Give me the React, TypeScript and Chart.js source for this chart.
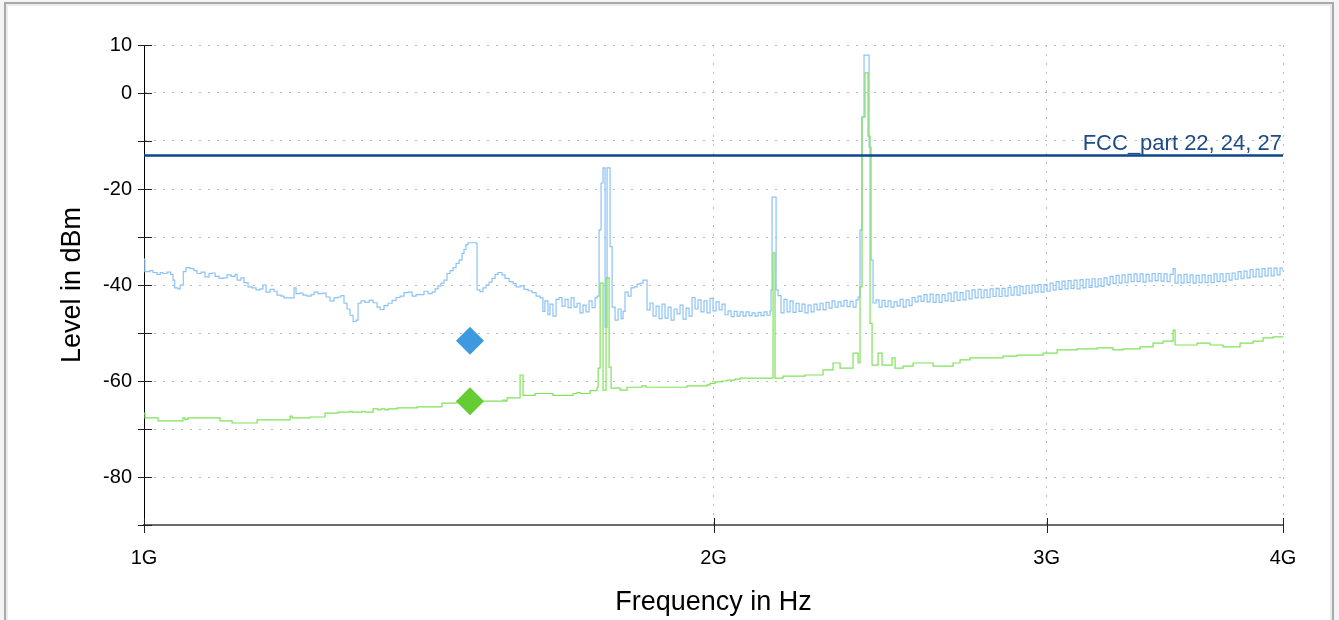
import React, { useEffect, useRef } from "react";
import { Chart, registerables } from "chart.js";

Chart.register(...registerables);

// ---- tick / label data ----
const xTickValues = [1000, 2000, 3000, 4000]; // MHz
const xTickLabels = ["1G", "2G", "3G", "4G"];
const yLabelValues = [10, 0, -20, -40, -60, -80];
const yMin = -90;
const yMax = 10;
const fccLimit = -13;
const fccLabel = "FCC_part 22, 24, 27";
const markerFreq = 1487;
const blueMarkerLevel = -51.6;
const greenMarkerLevel = -64.2;

// ---- peak trace (MHz, dBm) ----
const bluePeak: [number, number][] = [
  [1000, -34.6], [1001, -37.2], [1007, -37.0], [1011, -37.4], [1016, -37.8], [1020, -37.4],
  [1023, -37.6], [1028.4, -37.3], [1033, -37.8], [1036, -39.0], [1038, -40.6], [1042, -40.8],
  [1045, -40.0], [1049, -37.2], [1052.5, -36.4], [1057.7, -36.6], [1062.8, -37.0], [1066.7, -37.6],
  [1071.9, -37.3], [1077.1, -38.3], [1082.4, -37.6], [1086.4, -37.5], [1090.4, -38.2], [1095.7, -38.6],
  [1101, -38.5], [1106.4, -37.9], [1111.8, -38.2], [1117.2, -37.8], [1120, -39.0], [1125.3, -38.5],
  [1129.4, -39.5], [1135, -40.4], [1140.5, -40.6], [1146, -41.0], [1151.7, -40.8], [1155.9, -40.0],
  [1160.2, -41.5], [1165.9, -40.9], [1171.6, -41.3], [1175.8, -42.1], [1181.5, -42.3], [1185.8, -42.7],
  [1191.6, -42.7], [1197.5, -42.7], [1200.4, -40.6], [1203.3, -41.8], [1209.2, -41.7], [1213.6, -42.1],
  [1219.5, -42.3], [1225.5, -42.0], [1230, -41.5], [1236, -41.8], [1241.9, -41.7], [1248, -42.5],
  [1254, -43.3], [1260.2, -42.7], [1266.4, -42.5], [1271, -42.2], [1275.6, -43.8], [1280.3, -45.0],
  [1285, -46.3], [1289.8, -47.6], [1294.5, -47.3], [1297.6, -43.8], [1302.4, -43.3], [1308.7, -43.6],
  [1315.2, -43.2], [1321.6, -43.7], [1328, -44.6], [1332.9, -45.1], [1339.3, -44.3], [1345.9, -43.8],
  [1352.5, -43.2], [1359.1, -42.6], [1365.7, -42.3], [1372.3, -41.6], [1379.1, -41.5], [1385.8, -42.3],
  [1392.6, -42.0], [1399.3, -42.0], [1406.1, -41.3], [1413, -41.8], [1420, -41.5], [1425.2, -40.8],
  [1430.3, -40.2], [1435.5, -39.6], [1440.7, -39.0], [1446, -37.6], [1451.4, -37.0], [1456.7, -36.4],
  [1462, -35.5], [1467.3, -34.8], [1472.7, -33.4], [1476.2, -32.6], [1479.8, -31.6], [1483.5, -31.2],
  [1490.8, -31.2], [1498, -31.3], [1499.8, -41.0], [1505.2, -41.4], [1510.8, -40.6], [1516.3, -40.0],
  [1521.9, -39.4], [1527.5, -38.6], [1533.1, -37.8], [1538.7, -37.4], [1546.2, -37.9], [1551.8, -38.6],
  [1559.5, -39.3], [1567.1, -39.7], [1572.8, -40.4], [1580.5, -40.2], [1588.1, -40.9], [1596, -41.2],
  [1603.8, -41.6], [1611.6, -42.3], [1619.4, -42.7], [1625, -45.5], [1629, -43.3], [1635, -46.2],
  [1639, -44.0], [1645, -46.5], [1651.3, -43.0], [1657.3, -42.6], [1663.3, -44.4], [1669.4, -43.0],
  [1675.5, -44.7], [1681.7, -42.7], [1687.8, -44.6], [1694, -43.8], [1700.2, -45.8], [1706.3, -44.2],
  [1712.6, -45.6], [1718.9, -43.3], [1725.2, -44.7], [1731.6, -42.7], [1735.8, -42.3], [1740, -28.5],
  [1744.2, -18.75], [1748.4, -15.6], [1752.7, -48.8], [1757, -15.6], [1761.3, -15.6], [1763.4, -32.0],
  [1767.8, -44.6], [1774.2, -47.3], [1780.7, -45.0], [1787.2, -47.0], [1791.5, -45.5], [1795.8, -41.5],
  [1802.4, -42.3], [1809, -40.6], [1815.7, -40.4], [1822.3, -39.8], [1829, -39.6], [1835.6, -39.0],
  [1842.3, -39.0], [1844.6, -45.2], [1851.4, -43.75], [1858.2, -46.5], [1865, -44.4], [1871.8, -47.0],
  [1878.6, -44.0], [1885.4, -46.9], [1892.4, -44.6], [1899.3, -47.3], [1906.3, -45.0], [1913.3, -46.0],
  [1920.2, -44.2], [1927.2, -47.1], [1934.3, -44.8], [1941.4, -46.5], [1948.5, -42.6], [1955.6, -45.0],
  [1962.7, -43.1], [1969.9, -45.6], [1977, -43.3], [1984.3, -45.8], [1991.6, -42.8], [1998.9, -45.4],
  [2006.3, -43.5], [2013.6, -45.2], [2020.9, -44.0], [2028.3, -46.2], [2035.8, -45.4], [2043.3, -46.6],
  [2050.8, -45.5], [2058.3, -46.5], [2065.7, -45.6], [2073.2, -46.5], [2080.8, -45.6], [2088.5, -46.4],
  [2096.1, -45.8], [2103.8, -46.5], [2111.5, -45.7], [2119.1, -46.4], [2126.8, -45.6], [2134.7, -46.3],
  [2142.5, -45.4], [2145.1, -41.0], [2147.8, -21.7], [2155.6, -21.7], [2158.3, -41.0], [2163.5, -42.2],
  [2171.3, -45.8], [2179.2, -43.0], [2187.3, -45.6], [2195.3, -43.3], [2203.4, -45.7], [2211.4, -43.8],
  [2219.5, -45.5], [2227.5, -44.0], [2235.6, -45.8], [2243.9, -44.2], [2252.2, -45.6], [2260.4, -44.0],
  [2268.8, -45.2], [2277, -43.8], [2285.3, -45.2], [2293.6, -43.6], [2302.1, -44.8], [2310.5, -43.3],
  [2319, -44.6], [2327.4, -43.5], [2335.9, -44.4], [2344.3, -43.2], [2353, -44.5], [2361.6, -43.4],
  [2370.3, -44.6], [2379, -43.1], [2384.8, -42.5], [2390.5, -28.5], [2396.3, -5.0], [2402.1, 7.9],
  [2416.9, -11.25], [2422.8, -34.8], [2428.7, -43.75], [2437.6, -43.1], [2446.5, -44.6], [2455.4, -43.2],
  [2464.3, -44.5], [2473.4, -43.3], [2482.5, -44.6], [2491.6, -43.5], [2500.8, -44.4], [2509.9, -43.0],
  [2519, -44.6], [2528.2, -43.1], [2537.5, -44.3], [2546.8, -42.6], [2556.1, -43.5], [2565.5, -42.3],
  [2574.8, -43.4], [2584.1, -42.0], [2593.7, -43.5], [2603.2, -41.9], [2612.8, -43.6], [2622.3, -42.0],
  [2631.9, -43.6], [2641.4, -42.0], [2651.1, -43.3], [2660.9, -41.7], [2670.7, -43.4], [2680.4, -41.5],
  [2690.2, -43.2], [2700, -41.6], [2709.8, -43.1], [2719.7, -41.2], [2729.8, -42.9], [2739.8, -41.0],
  [2749.9, -42.7], [2759.9, -40.9], [2770, -42.7], [2780, -41.0], [2790.3, -42.6], [2800.5, -40.8],
  [2810.8, -42.4], [2821, -40.7], [2831.3, -42.4], [2841.6, -40.7], [2851.9, -42.3], [2862.4, -40.5],
  [2872.9, -42.1], [2883.5, -40.4], [2894, -42.1], [2904.5, -40.3], [2915.1, -41.8], [2925.8, -40.1],
  [2936.6, -41.7], [2947.4, -40.0], [2958.2, -41.5], [2969, -39.9], [2979.7, -41.5], [2990.5, -39.9],
  [3001.6, -41.3], [3012.6, -39.6], [3023.7, -41.0], [3034.7, -39.3], [3045.8, -40.9], [3056.8, -39.2],
  [3068, -40.8], [3079.3, -39.1], [3090.6, -40.7], [3101.9, -39.0], [3113.3, -40.8], [3124.6, -38.9],
  [3136, -40.6], [3147.4, -38.8], [3159, -40.5], [3170.6, -38.7], [3182.3, -40.4], [3193.9, -38.7],
  [3205.5, -40.3], [3217.1, -38.5], [3229, -39.9], [3240.9, -38.2], [3252.7, -39.7], [3264.6, -38.0],
  [3276.5, -39.6], [3288.4, -37.9], [3300.4, -39.5], [3312.6, -37.8], [3324.8, -39.3], [3337, -37.7],
  [3349.2, -39.3], [3361.3, -37.7], [3373.5, -39.4], [3385.9, -37.8], [3398.4, -39.2], [3410.9, -37.6],
  [3423.4, -39.1], [3435.8, -37.6], [3448.3, -39.2], [3460.8, -37.7], [3473.6, -39.3], [3486.4, -37.8],
  [3499.2, -36.6], [3507.7, -39.6], [3520.5, -37.9], [3533.3, -39.6], [3546.1, -37.8], [3559.2, -39.5],
  [3572.3, -37.9], [3585.4, -39.6], [3598.6, -38.0], [3611.7, -39.5], [3624.8, -37.9], [3638, -39.5],
  [3651.4, -38.0], [3664.8, -39.5], [3678.3, -37.7], [3691.7, -39.3], [3705.1, -37.7], [3718.5, -39.3],
  [3732.2, -37.6], [3745.9, -39.0], [3759.7, -37.5], [3773.5, -38.8], [3787.2, -37.2], [3801, -38.7],
  [3814.7, -37.1], [3828.8, -38.5], [3842.9, -36.8], [3857, -38.3], [3871.1, -36.7], [3885.2, -38.3],
  [3899.3, -36.6], [3913.5, -38.1], [3928, -36.5], [3942.4, -38.1], [3956.8, -36.5], [3971.1, -37.9],
  [3985.6, -36.5], [4000, -37.2],
];

// ---- average trace (MHz, dBm) ----
const greenAvg: [number, number][] = [
  [1000, -66.7], [1001.2, -67.7], [1017.2, -68.3], [1048.6, -67.7], [1051.2, -68.0], [1055, -67.7],
  [1097, -68.3], [1113.2, -68.75], [1147.6, -68.1], [1194.6, -67.3], [1197.5, -67.7], [1224, -67.5],
  [1246.4, -66.7], [1266.4, -66.5], [1285, -66.3], [1288.2, -66.5], [1304, -66.3], [1308.7, -66.5],
  [1321.6, -65.8], [1329.6, -66.0], [1334.5, -65.8], [1341, -66.0], [1345.9, -65.8], [1360.8, -65.6],
  [1394.3, -65.4], [1437.2, -64.6], [1463.8, -64.2], [1548, -64.0], [1551.8, -64.2], [1555.6, -63.5],
  [1580.5, -58.75], [1586.2, -63.0], [1609.7, -62.6], [1645, -63.0], [1685.8, -62.6], [1694, -62.4],
  [1700.2, -62.6], [1721, -62.0], [1735.8, -61.3], [1738, -57.3], [1742.2, -39.6], [1748.4, -61.9],
  [1754.8, -38.5], [1761.3, -57.1], [1765.6, -61.5], [1785, -61.9], [1800.2, -61.3], [1829, -61.3],
  [1833.4, -61.0], [1842.3, -61.3], [1936.6, -61.0], [1984.3, -60.8], [1991.6, -60.5], [2003.8, -60.2],
  [2020.9, -60.0], [2033.3, -59.8], [2053.3, -59.6], [2065.7, -59.4], [2150.4, -33.3], [2155.6, -59.4],
  [2176.6, -59.0], [2235.6, -58.75], [2285.3, -57.7], [2313.3, -56.25], [2333.1, -57.3], [2370.3, -54.2],
  [2384.8, -56.25], [2390.5, -40.4], [2396.3, -5.0], [2405, 4.2], [2413.9, -9.0], [2419.8, -48.0],
  [2425.7, -56.7], [2443.5, -54.2], [2455.4, -56.7], [2485.5, -55.2], [2494.6, -57.3], [2519, -56.9],
  [2549.9, -56.25], [2612.8, -56.9], [2677.1, -56.25], [2700, -55.6], [2733.1, -55.2], [2845, -54.8],
  [2894, -54.6], [2987, -54.2], [3038.4, -53.5], [3113.3, -53.3], [3190.6, -53.1], [3252.7, -53.5],
  [3292.3, -53.3], [3361.3, -52.9], [3414.9, -52.1], [3456.6, -51.7], [3499.2, -49.4], [3507.7, -52.5],
  [3602.9, -52.1], [3660.3, -52.5], [3718.5, -52.9], [3796.4, -52.1], [3857, -51.7], [3904, -51.0],
  [3952, -50.8], [4000, -50.8],
];

const FONT = '"Liberation Sans", Arial, Helvetica, sans-serif';

const axisDecor = {
  id: "axisDecor",
  afterDatasetsDraw(chart: any) {
    const { ctx, chartArea, scales } = chart;
    const xs = scales.x;
    const ys = scales.y;
    ctx.save();
    ctx.strokeStyle = "#222";
    ctx.lineWidth = 1;
    for (let v = yMin; v <= yMax; v += 10) {
      const y = Math.round(ys.getPixelForValue(v)) + 0.5;
      ctx.beginPath();
      ctx.moveTo(chartArea.left - 6, y);
      ctx.lineTo(chartArea.left + 8, y);
      ctx.stroke();
    }
    for (const v of xTickValues) {
      const x = Math.round(xs.getPixelForValue(v)) + 0.5;
      ctx.beginPath();
      ctx.moveTo(x, chartArea.bottom - 7);
      ctx.lineTo(x, chartArea.bottom + 8);
      ctx.stroke();
    }
    // limit label
    const yl = ys.getPixelForValue(fccLimit);
    ctx.font = `22px ${FONT}`;
    ctx.fillStyle = "#1b4a86";
    ctx.textAlign = "right";
    ctx.textBaseline = "alphabetic";
    ctx.fillText(fccLabel, chartArea.right - 1, yl - 5);
    ctx.restore();
  },
};

export default function App() {
  const ref = useRef<HTMLCanvasElement | null>(null);
  useEffect(() => {
    if (!ref.current) return;
    const chart = new Chart(ref.current, {
      type: "line",
      data: {
        datasets: [
          {
            label: "marker peak",
            data: [{ x: markerFreq, y: blueMarkerLevel }],
            showLine: false,
            pointStyle: "rectRot",
            pointRadius: 14,
            pointBorderWidth: 0,
            pointBackgroundColor: "#3d9ae0",
            borderColor: "#3d9ae0",
            order: 0,
          },
          {
            label: "marker avg",
            data: [{ x: markerFreq, y: greenMarkerLevel }],
            showLine: false,
            pointStyle: "rectRot",
            pointRadius: 14,
            pointBorderWidth: 0,
            pointBackgroundColor: "#66cc33",
            borderColor: "#66cc33",
            order: 0,
          },
          {
            label: fccLabel,
            data: [
              { x: xTickValues[0], y: fccLimit },
              { x: xTickValues[xTickValues.length - 1], y: fccLimit },
            ],
            borderColor: "#0d468c",
            borderWidth: 2.5,
            pointRadius: 0,
            order: 1,
          },
          {
            label: "Average",
            data: greenAvg.map(([x, y]) => ({ x, y })),
            borderColor: "#7fe25a",
            borderWidth: 1.2,
            pointRadius: 0,
            stepped: true,
            order: 2,
          },
          {
            label: "Peak",
            data: bluePeak.map(([x, y]) => ({ x, y })),
            borderColor: "#8cc2f5",
            borderWidth: 1.2,
            pointRadius: 0,
            stepped: true,
            order: 3,
          },
        ],
      },
      options: {
        responsive: false,
        animation: false,
        devicePixelRatio: 1,
        layout: { padding: { left: 0, top: 45, right: 56, bottom: 0 } },
        plugins: { legend: { display: false }, tooltip: { enabled: false } },
        events: [],
        scales: {
          x: {
            type: "logarithmic",
            min: 1000,
            max: 4000,
            afterBuildTicks: (s: any) => {
              s.ticks = xTickValues.map((v) => ({ value: v }));
            },
            afterFit: (s: any) => {
              s.height = 95;
            },
            ticks: {
              autoSkip: false,
              maxRotation: 0,
              padding: 21,
              color: "#000",
              font: { family: FONT, size: 20 },
              callback: (v: any) => {
                const i = xTickValues.indexOf(Number(v));
                return i >= 0 ? xTickLabels[i] : "";
              },
            },
            grid: { color: "#bdbdbd", drawTicks: false, lineWidth: 1 },
            border: { display: true, color: "#6a6a6a", width: 2, dash: [2, 7] },
            title: {
              display: true,
              text: "Frequency in Hz",
              color: "#000",
              font: { family: FONT, size: 27 },
              padding: { top: 0, bottom: 1 },
            },
          },
          y: {
            min: yMin,
            max: yMax,
            afterFit: (s: any) => {
              s.width = 144;
            },
            ticks: {
              stepSize: 10,
              padding: 12,
              color: "#000",
              font: { family: FONT, size: 20 },
              callback: (v: any) => (yLabelValues.includes(Number(v)) ? String(v) : ""),
            },
            grid: { color: "#bdbdbd", drawTicks: false, lineWidth: 1 },
            border: { display: true, color: "#000", width: 1, dash: [2, 7] },
            title: {
              display: true,
              text: "Level in dBm",
              color: "#000",
              font: { family: FONT, size: 27 },
              padding: { top: 56, bottom: 0 },
            },
          },
        },
      },
      plugins: [axisDecor],
    });
    return () => chart.destroy();
  }, []);

  return (
    <div
      style={{
        position: "fixed",
        left: 0,
        top: 0,
        width: 1339,
        height: 620,
        background: "#f4f4f4",
        overflow: "hidden",
      }}
    >
      <div
        style={{
          position: "absolute",
          left: 4,
          top: 2,
          width: 1330,
          height: 700,
          boxSizing: "border-box",
          border: "2px solid #a9a9a9",
          background: "#fff",
        }}
      >
        <div
          style={{
            position: "absolute",
            left: 0,
            top: 0,
            right: 0,
            bottom: 0,
            border: "2px solid #ececec",
          }}
        />
      </div>
      <canvas
        ref={ref}
        width={1339}
        height={620}
        style={{ position: "absolute", left: 0, top: 0, width: 1339, height: 620 }}
      />
    </div>
  );
}
